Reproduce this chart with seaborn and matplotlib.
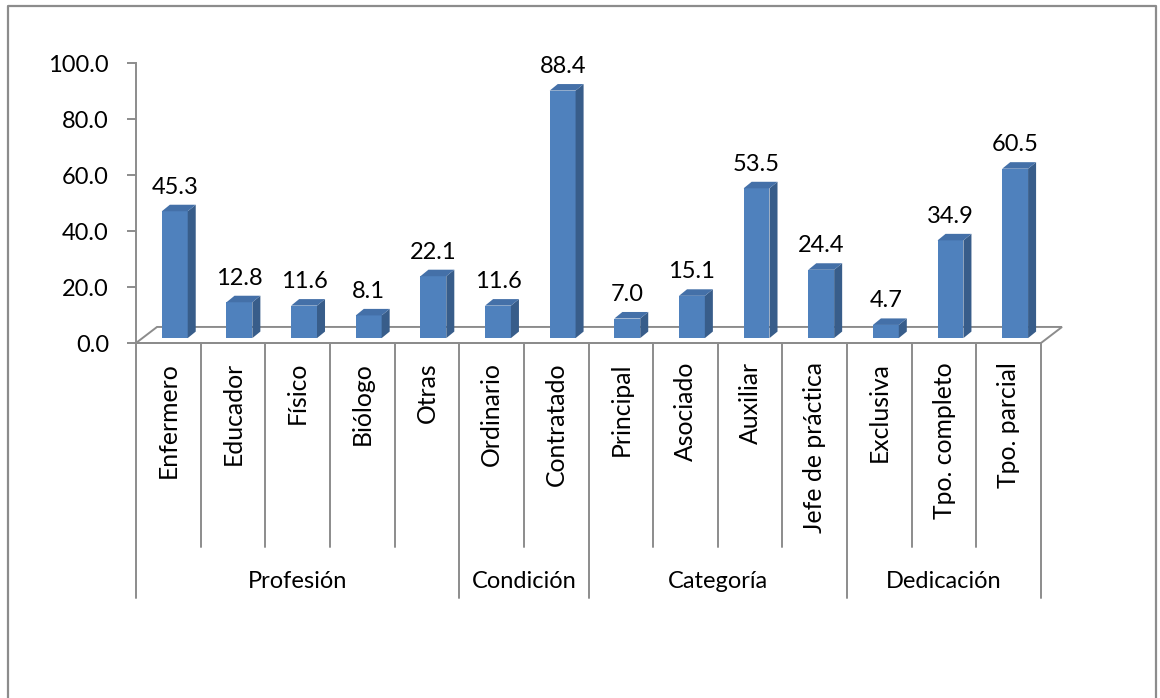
import matplotlib
matplotlib.use("Agg")
import matplotlib.pyplot as plt
import seaborn as sns
import pandas as pd
from matplotlib.patches import Polygon
from matplotlib.lines import Line2D

# ---- data ----
categories = ["Enfermero", "Educador", "Físico", "Biólogo", "Otras",
              "Ordinario", "Contratado",
              "Principal", "Asociado", "Auxiliar", "Jefe de práctica",
              "Exclusiva", "Tpo. completo", "Tpo. parcial"]
values = [45.3, 12.8, 11.6, 8.1, 22.1,
          11.6, 88.4,
          7.0, 15.1, 53.5, 24.4,
          4.7, 34.9, 60.5]
groups = ["Profesión", "Condición", "Categoría", "Dedicación"]
group_sizes = [5, 2, 4, 3]
yticks = [0, 20, 40, 60, 80, 100]

# ---- style ----
FRONT = "#4F81BD"
SIDE = "#385D8A"
TOP = "#4470A8"
GRAY = "#8C8C8C"
FS = 17
FS_CAT = 17.8

sns.set_theme(style="white")
plt.rcParams["font.family"] = ["Lato", "DejaVu Sans"]

W, H = 1160, 698
fig = plt.figure(figsize=(W / 100, H / 100), dpi=100)
fig.patch.set_facecolor("white")
ax = fig.add_axes([136 / W, 1 - 343 / H, 905 / W, 280 / H])
ax.set_facecolor("none")

df = pd.DataFrame({"cat": categories, "val": values})
sns.barplot(data=df, x="cat", y="val", order=categories, ax=ax, color=FRONT,
            saturation=1, width=0.40, edgecolor="none", linewidth=0, zorder=3)

ax.set_xlim(-0.5, len(categories) - 0.5)
ax.set_ylim(0, 100)

# 3D geometry (data units)
FDX, FDY = 0.325, 5.73      # floor depth
BDX, BDY = 0.124, 2.33      # bar depth
SHX, SHY = 0.10, 1.75       # bar placement inside floor

# floor
n = len(categories)
floor = Polygon([(-0.5, 0), (n - 0.5, 0), (n - 0.5 + FDX, FDY), (-0.5 + FDX, FDY)],
                closed=True, facecolor="none", edgecolor=GRAY, lw=1.4,
                clip_on=False, zorder=1)
ax.add_patch(floor)

# bars -> 3D boxes
for p, v in zip(ax.patches[:n], values):
    x0 = p.get_x() + SHX
    w = p.get_width()
    p.set_x(x0)
    p.set_y(SHY)
    p.set_clip_on(False)
    x1 = x0 + w
    top = SHY + p.get_height()
    side = Polygon([(x1, SHY), (x1 + BDX, SHY + BDY), (x1 + BDX, top + BDY), (x1, top)],
                   closed=True, facecolor=SIDE, edgecolor="none", clip_on=False, zorder=3)
    tface = Polygon([(x0, top), (x0 + BDX, top + BDY), (x1 + BDX, top + BDY), (x1, top)],
                    closed=True, facecolor=TOP, edgecolor="none", clip_on=False, zorder=3)
    ax.add_patch(side)
    ax.add_patch(tface)
    ax.annotate(f"{v:.1f}", xy=(x0 + w / 2, top + BDY), xytext=(0, 8),
                textcoords="offset points", ha="center", va="baseline",
                fontsize=FS, color="black", annotation_clip=False)

# axes lines
for s in ["top", "right"]:
    ax.spines[s].set_visible(False)
for s in ["left", "bottom"]:
    ax.spines[s].set_visible(True)
    ax.spines[s].set_color(GRAY)
    ax.spines[s].set_linewidth(1.4)
    ax.spines[s].set_zorder(2)

ax.set_yticks(yticks)
ax.set_yticklabels([f"{t:.1f}" for t in yticks])
ax.tick_params(axis="y", direction="out", length=6.5, width=1.4, color=GRAY,
               pad=13, labelsize=FS, labelcolor="black", left=True)
ax.set_xticks([])
ax.set_xlabel("")
ax.set_ylabel("")

# multi-level category axis
tr = ax.get_xaxis_transform()
y_lab = -19 / 280
y_inner = -204 / 280
y_group = -255 / 280
y_glab = -239 / 280
for i, c in enumerate(categories):
    ax.text(i, y_lab, c, rotation=90, ha="center", va="top", fontsize=FS_CAT,
            color="black", transform=tr)
bounds = [-0.5]
for g in group_sizes:
    bounds.append(bounds[-1] + g)
for i in range(n + 1):
    xb = -0.5 + i
    yb = y_group if xb in bounds else y_inner
    ax.add_line(Line2D([xb, xb], [0, yb], transform=tr, color=GRAY, lw=1.4,
                       clip_on=False))
for g, a, b in zip(groups, bounds[:-1], bounds[1:]):
    ax.text((a + b) / 2, y_glab, g, ha="center", va="center", fontsize=FS,
            color="black", transform=tr)

# outer chart frame
fx0, fx1, fy = 8 / W, 1156 / W, 1 - 6 / H
fig.add_artist(Line2D([fx0, fx0, fx1, fx1], [0, fy, fy, 0],
                      transform=fig.transFigure, color=GRAY, lw=1.6))

fig.savefig("out.png", dpi=100, facecolor="white")
